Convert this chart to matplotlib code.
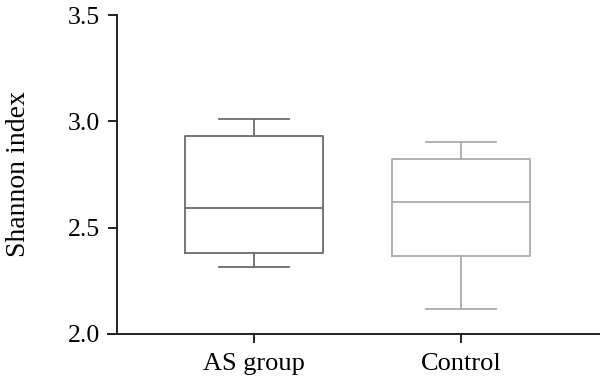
import matplotlib
matplotlib.use("Agg")
import matplotlib.pyplot as plt

plt.rcParams['font.family'] = ['Liberation Serif', 'DejaVu Serif']

# box plot summary
groups = ['AS group', 'Control']
whislo = [2.316, 2.118]
q1 = [2.382, 2.368]
med = [2.594, 2.623]
q3 = [2.929, 2.825]
whishi = [3.009, 2.901]
colors = ['#6b6b6b', '#ababab']

yticks = [2.0, 2.5, 3.0, 3.5]

fig = plt.figure(figsize=(6.0, 3.85), dpi=100)
ax = fig.add_axes([108 / 600, 51 / 385, 492 / 600, 319 / 385])

stats = []
for i, g in enumerate(groups):
    stats.append(dict(label=g, whislo=whislo[i], q1=q1[i], med=med[i],
                      q3=q3[i], whishi=whishi[i], fliers=[]))

for i, s in enumerate(stats):
    c = colors[i]
    ax.bxp([s], positions=[i + 1], widths=0.667, showfliers=False,
           boxprops=dict(color=c, linewidth=1.3),
           medianprops=dict(color=c, linewidth=1.3),
           whiskerprops=dict(color=c, linewidth=1.3),
           capprops=dict(color=c, linewidth=1.3),
           capwidths=0.34)

ax.set_xlim(0.295, 2.671)
ax.set_ylim(2.0, 3.5)
ax.set_xticks([1, 2])
ax.set_xticklabels(groups)
ax.set_yticks(yticks)
ax.set_yticklabels([f'{t:.1f}' for t in yticks])

ax.spines['top'].set_visible(False)
ax.spines['right'].set_visible(False)
ax.spines['left'].set_position(('outward', -6.5))
for sp in ['left', 'bottom']:
    ax.spines[sp].set_linewidth(1.4)
    ax.spines[sp].set_color('#222222')

ax.tick_params(axis='both', direction='out', length=6.5, width=1.4, color='#222222')
ax.tick_params(axis='y', labelsize=18.5, pad=6)
ax.tick_params(axis='x', labelsize=19, pad=7)

ax.set_ylabel('Shannon index', fontsize=20)
ax.yaxis.set_label_coords(-0.157, 0.5)

fig.savefig('out.png', dpi=100)
